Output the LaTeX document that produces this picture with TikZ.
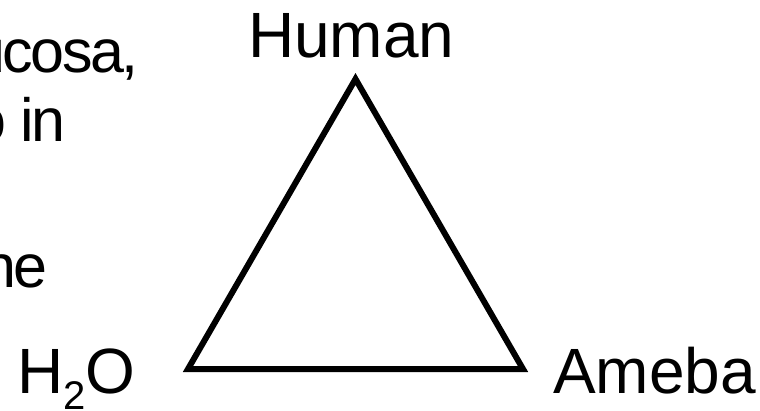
\documentclass[tikz,border=0pt]{standalone}
\usepackage{fontspec}
\setmainfont{Liberation Sans}
\newfontfamily\tightfont[LetterSpace=-4]{Liberation Sans}
\usetikzlibrary{positioning}

\begin{document}
\begin{tikzpicture}[
  x=1pt, y=-1pt,
  label/.style={inner sep=0pt, font=\fontsize{64}{76}\selectfont},
  cuttext/.style={inner sep=0pt, anchor=base east, font=\tightfont\fontsize{61}{73}\selectfont},
  side/.style={line width=6pt, line join=miter},
]
  \useasboundingbox (0,0) rectangle (760,410);
  \clip (0,0) rectangle (760,410);

  % Cut-off text on the left
  \node[cuttext] (line1) at (139,72) {ucosa,};
  \node[cuttext] (line2) at (66,141) {o in};
  \node[cuttext] (line3) at (48,287) {ne};

  % Corners
  \coordinate (top) at (355.5,79);
  \coordinate (left) at (188,369);
  \coordinate (right) at (523,369);

  \node[label, anchor=base west] (human) at (248,57) {Human};
  \node[label, anchor=base west] (water) at (17,393)
    {H\raisebox{-16pt}{\fontsize{40}{40}\selectfont 2}O};
  \node[label, anchor=base west] (ameba) at (553,393) {Ameba};

  % Triangle
  \draw[side] (top) -- (left) -- (right) -- cycle;
\end{tikzpicture}
\end{document}
